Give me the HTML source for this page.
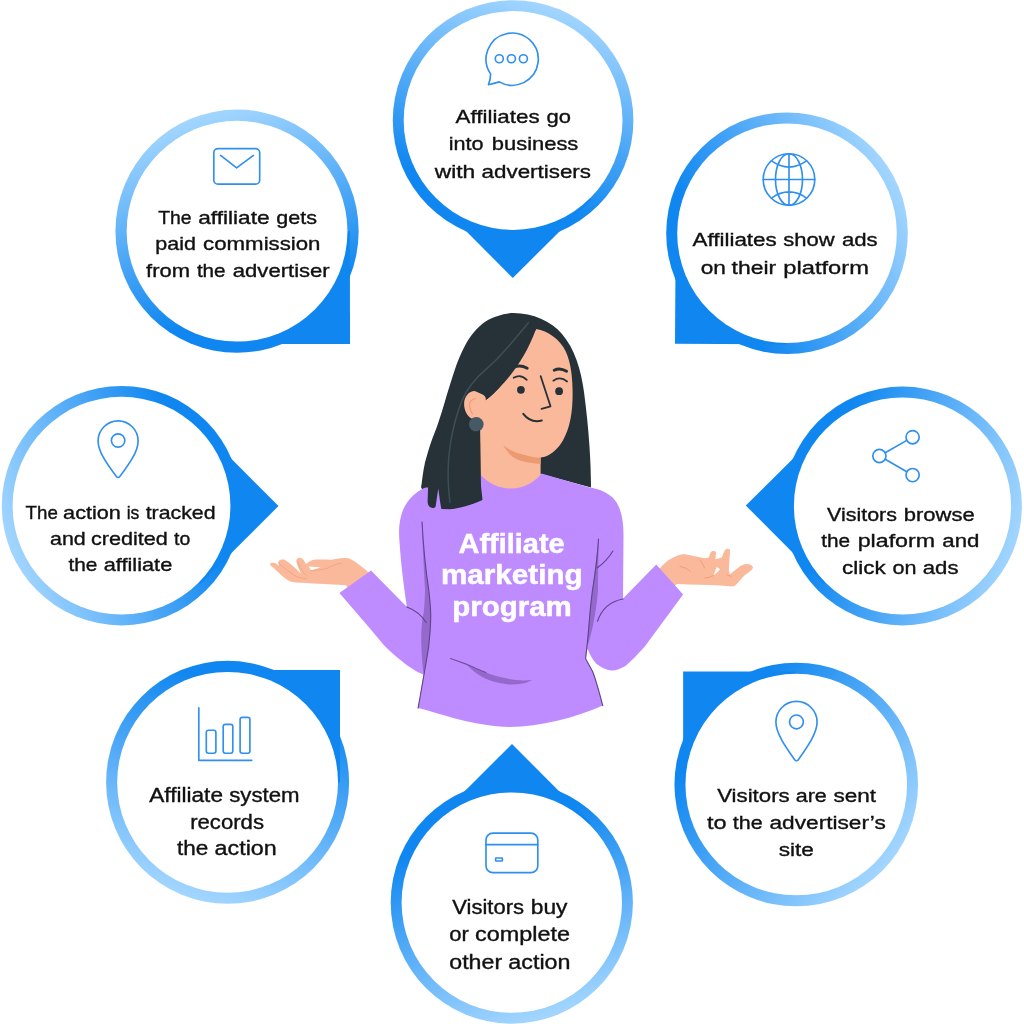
<!DOCTYPE html>
<html lang="en">
<head>
<meta charset="utf-8">
<title>Affiliate marketing program</title>
<style>
html,body{margin:0;padding:0;background:#fff;}
body{width:1024px;height:1024px;overflow:hidden;}
svg{display:block;will-change:transform;}
text{font-family:"Liberation Sans",sans-serif;}
.t{fill:#111111;stroke:#111111;stroke-width:0.36px;}
.b{font-size:28px;font-weight:bold;fill:#fff;stroke:#fff;stroke-width:0.5px;}
.ic{fill:none;stroke:#2F90EE;stroke-width:1.65;stroke-linecap:round;stroke-linejoin:round;}
</style>
</head>
<body>
<svg width="1024" height="1024" viewBox="0 0 1024 1024">
<rect width="1024" height="1024" fill="#fff"/>
<g id="bubbles">
<linearGradient id="g0" gradientUnits="userSpaceOnUse" x1="201.7" y1="115.5" x2="259.0" y2="302.9"><stop offset="0" stop-color="#A3D6FF"/><stop offset="1" stop-color="#1087F0"/></linearGradient><circle cx="237.05" cy="231.2" r="121.6" fill="url(#g0)"/><path d="M237.1 231.2L237.1 344.1L350.0 344.0L349.9 231.1Z" fill="#1087F0"/><circle cx="237.05" cy="231.2" r="110.4" fill="#fff"/>
<linearGradient id="g1" gradientUnits="userSpaceOnUse" x1="548.5" y1="4.8" x2="491.2" y2="192.2"><stop offset="0" stop-color="#A3D6FF"/><stop offset="1" stop-color="#1087F0"/></linearGradient><circle cx="513.1" cy="120.5" r="120.3" fill="url(#g1)"/><path d="M513.1 120.5L434.2 199.1L512.8 278.0L591.7 199.4Z" fill="#1087F0"/><circle cx="513.1" cy="120.5" r="109.4" fill="#fff"/>
<linearGradient id="g2" gradientUnits="userSpaceOnUse" x1="893.8" y1="176.4" x2="720.8" y2="268.4"><stop offset="0" stop-color="#A3D6FF"/><stop offset="1" stop-color="#1087F0"/></linearGradient><circle cx="787.0" cy="233.2" r="120.8" fill="url(#g2)"/><path d="M787.0 233.2L675.7 232.5L675.0 343.8L786.3 344.5Z" fill="#1087F0"/><circle cx="787.0" cy="233.2" r="109.8" fill="#fff"/>
<linearGradient id="g3" gradientUnits="userSpaceOnUse" x1="1019.4" y1="537.3" x2="830.1" y2="486.6"><stop offset="0" stop-color="#A3D6FF"/><stop offset="1" stop-color="#1087F0"/></linearGradient><circle cx="902.5" cy="506.0" r="119.4" fill="url(#g3)"/><path d="M902.5 506.0L824.4 427.4L745.8 505.5L823.9 584.1Z" fill="#1087F0"/><circle cx="902.5" cy="506.0" r="108.6" fill="#fff"/>
<linearGradient id="g4" gradientUnits="userSpaceOnUse" x1="888.9" y1="862.3" x2="723.5" y2="723.5"><stop offset="0" stop-color="#A3D6FF"/><stop offset="1" stop-color="#1087F0"/></linearGradient><circle cx="796.25" cy="784.55" r="121.8" fill="url(#g4)"/><path d="M796.2 784.5L796.2 671.5L683.1 671.5L683.2 784.6Z" fill="#1087F0"/><circle cx="796.25" cy="784.55" r="110.8" fill="#fff"/>
<linearGradient id="g5" gradientUnits="userSpaceOnUse" x1="547.2" y1="1018.3" x2="489.9" y2="830.9"><stop offset="0" stop-color="#A3D6FF"/><stop offset="1" stop-color="#1087F0"/></linearGradient><circle cx="511.8" cy="902.6" r="121.1" fill="url(#g5)"/><path d="M511.8 902.6L591.2 823.4L512.0 744.0L432.6 823.2Z" fill="#1087F0"/><circle cx="511.8" cy="902.6" r="110.2" fill="#fff"/>
<linearGradient id="g6" gradientUnits="userSpaceOnUse" x1="190.2" y1="897.4" x2="256.0" y2="694.9"><stop offset="0" stop-color="#A3D6FF"/><stop offset="1" stop-color="#1087F0"/></linearGradient><circle cx="227.6" cy="782.35" r="121.5" fill="url(#g6)"/><path d="M227.6 782.4L340.0 782.4L340.0 670.0L227.6 670.0Z" fill="#1087F0"/><circle cx="227.6" cy="782.35" r="110.4" fill="#fff"/>
<linearGradient id="g7" gradientUnits="userSpaceOnUse" x1="7.8" y1="547.1" x2="192.0" y2="480.0"><stop offset="0" stop-color="#A3D6FF"/><stop offset="1" stop-color="#1087F0"/></linearGradient><circle cx="121.5" cy="505.7" r="119.7" fill="url(#g7)"/><path d="M121.5 505.7L199.8 584.4L278.5 506.0L200.2 427.4Z" fill="#1087F0"/><circle cx="121.5" cy="505.7" r="108.9" fill="#fff"/>
</g>
<g id="icons" class="ic">
<!-- chat bubble -->
<path d="M490.6 73.9 A26.1 26.1 0 1 1 499.3 81.9 Q494 83.6 488.4 84.7 Q490.6 79.5 490.6 73.9 Z"/>
<circle cx="499.3" cy="58.75" r="4"/><circle cx="511.4" cy="58.75" r="4"/><circle cx="523.4" cy="58.75" r="4"/>
<!-- envelope -->
<rect x="213.8" y="148.6" width="45.9" height="35.5" rx="4.2"/>
<path d="M220.6 155.4 L236.6 167.8 L253.4 155.4"/>
<!-- globe -->
<circle cx="789" cy="179.5" r="25.8"/>
<ellipse cx="789" cy="179.5" rx="13.5" ry="25.8"/>
<path d="M789 153.7V205.3M763.2 179.5H814.8M771.5 160.9Q789 173.2 806.5 160.9M771.5 198.1Q789 185.8 806.5 198.1"/>
<!-- share -->
<circle cx="912.6" cy="437.2" r="6.6"/><circle cx="879.4" cy="456" r="6.6"/><circle cx="912.6" cy="475.1" r="6.6"/>
<path d="M885.2 452.8L906.8 440.4M885.2 459.3L906.8 471.8"/>
<!-- pin right-bottom -->
<path d="M775.9 722 A20.6 20.6 0 0 1 817.1 722 C817.1 733 808 746 798.5 759.5 Q796.5 762 794.5 759.5 C785 746 775.9 733 775.9 722Z"/>
<circle cx="796.45" cy="721.9" r="6.9"/>
<!-- card -->
<rect x="486" y="833.1" width="51.8" height="39.6" rx="6.8"/>
<path d="M486 844.6H537.8"/>
<rect x="495.6" y="858" width="6.8" height="3" rx="0.6"/>
<!-- chart -->
<path d="M198.8 707.8V760.3H251.8"/>
<rect x="206.3" y="730.2" width="9.6" height="23" rx="2.2"/>
<rect x="223.2" y="724.3" width="9.6" height="28.9" rx="2.2"/>
<rect x="240.1" y="717.3" width="9.8" height="35.9" rx="2.2"/>
<!-- pin left -->
<path d="M98.1 440.9 A20 20 0 0 1 138.1 440.9 C138.1 451.5 129.3 464 120 476.3 Q118.1 478.7 116.2 476.3 C106.9 464 98.1 451.5 98.1 440.9Z"/>
<circle cx="118.1" cy="440.5" r="6.7"/>

</g>
<g id="figure">
<!-- hair back -->
<path fill="#263238" d="M513.5 313.1 C504 313.2 493 317 486 321.25 C477 327 470 336.5 466 343.75 C461.5 352 457 363 454.75 370 C450 384 446 398 443.5 406.25 C440 418 436 430 432.75 437.5 C429.5 446 427 455 425 462.5 C423.3 470 422 480 421.25 487.5 L430 506 L438 508 L450 509.5 L482 500 L541 474 L591 487.5 C591 462 589 430 584 392 C581 370 575 349 562 334 C551 321 533 313.5 513.5 313.1Z"/>
<!-- left hand -->
<path fill="#FBB99B" d="M367.3 571.3 L374 580 L352 595 L346 585.3 C337 584.8 327 584.2 318.5 583.8 C311 583.3 303 582.9 296 582.5 C293.5 582.3 291.5 581.9 289.8 581.2 C285.5 579 282 575.8 278.5 572.5 C275.8 570 273 567.3 270.6 565.4 C269.7 564.3 270 563.2 271.3 562.9 C272.6 562.6 274 562.6 275.3 563.2 C276.6 564 278 564.9 279.3 565.8 C278.5 564.4 278 562.6 278.6 561.3 C279.6 559.6 282.5 559.2 284.8 559.8 C288 561.8 290.8 564.2 293.5 566.6 C296 568.8 298.5 571.3 301 573.7 C299.2 569.8 297.3 565.5 296.3 561.6 C296 559.3 297.6 557.8 299.8 557.8 C301.6 557.9 302.9 559 303.8 560.3 L306 564 C308 562.5 311 560.5 313 559.8 C318 559.4 325 559.7 331 559.7 C335.5 559.4 339.5 558.3 343.5 558.1 C346 557.9 348.3 558.1 349.8 558.8 C352.3 559.9 354.3 561.3 356 562.6 C360 565.4 363.8 568.3 367.3 571.3Z"/>
<path fill="#fff" d="M308.6 566.6 L320.6 567.2 C317.5 568.6 314 569.6 311 570.2 Z"/>
<path fill="none" stroke="#F0A183" stroke-width="0.9" stroke-linecap="round" d="M311 570.5 C318 570.3 324 569.5 328 568 C332 565.5 336 564 341 563.5 M278.5 563 C283 567 288.5 571.5 293.5 575 C297.5 577.3 302 578.5 306.5 578.8 M298 562 C299 565 300.5 568.5 302.5 571.5 C303.5 573 305 574.5 306.5 575.5"/>
<!-- right hand -->
<path fill="#FBB99B" d="M676.9 584 L668 592 L652 574 L660.6 567.5 C663 564.5 666 562 668.8 560 C672.5 557.4 677 555.2 681.3 554.4 C684.5 554 688 554.9 691.3 555.6 C695.5 556.5 700 557.5 703.8 558.1 C705.5 558.3 707.3 558 708.8 557.5 C709.3 555.8 709.8 554 710.6 552.5 C711.3 551.3 712.5 550.8 713.8 551 C715.2 551.2 716 551.9 716 552.8 C716 555 715.6 557.3 715.3 559.3 C717.5 558.8 720 558.3 722 557.6 C722.6 555 723.8 552 725 550 C725.8 549 727 548.6 728.1 548.8 C729.4 549 730 549.7 730 550.6 C730 554 729.6 558 729.4 561.3 C729.2 564.3 728.8 567.3 728.8 570 C729 571.5 729.5 573 730 574.4 C733 571.8 736.8 568.8 740 566.3 C742 565 744.3 564.2 746.3 564 C749 563.8 752 564.8 752.8 567 C753 568 752.7 568.6 752 569.4 C750 571.5 747.5 573.3 745 575 C742 578 739 581.5 736.3 584.4 C735 585.5 733.8 586.3 732.5 586.5 C728.5 586.3 724.3 585.9 720 585.6 C713.5 585.2 706.5 584.9 700 584.8 C692.3 584.6 684.5 584.3 676.9 584 Z"/>
<path fill="#fff" d="M716.8 566.9 L720.1 569.3 C718.2 571.5 716 573.6 713.5 575.3 C714.4 572.3 715.6 569.4 716.8 566.9Z"/>
<path fill="none" stroke="#EC9A72" stroke-width="0.9" stroke-linecap="round" d="M680 566.5 C684 567 688 569 690.5 571.5 M700 560 C702.5 563 704 566 704.5 568 M705 578 C708 577.6 711 576.8 713.3 575.6 M727 574.5 C728.5 575.8 730 576.3 731.5 576"/>
<!-- neck -->
<path fill="#FBB99B" d="M480 405 L480.3 476 C489 487 500 492 511 492 C523 492 534 485 540.6 476 L540.6 445 Z"/>
<!-- neck shadow -->
<path fill="#EC9A72" d="M503 445 C506 447.3 509.5 449.5 513 451.25 C517 453 521 454.3 525.5 455 C530.5 456 535.5 456.7 540.6 456.9 L540.6 464 C537.5 463.9 534.5 463.6 531.75 463.1 C528.5 462.6 525.3 462 522.4 461.25 C519 460.2 515.8 458.7 513 456.9 C510.6 455.2 508.5 453 506.75 450.6 C505.3 448.8 504 446.9 503 445Z"/>
<!-- ear -->
<path fill="#FBB99B" d="M474.75 391 C469 391 464.2 396.5 464.1 403.75 C464 410 467 416 471.5 418.5 L484 420 L486 396 Z"/>
<path fill="none" stroke="#EC9A72" stroke-width="1.1" stroke-linecap="round" d="M475.5 398.5 C471.5 399.5 469.2 402.5 469.6 406.3 C469.9 409.3 471 411.8 472.4 413.8"/>
<!-- face -->
<path fill="#FBB99B" d="M536 329 C548 331 560 339 566 352 C572 365 573 385 572.5 400 C572 418 568 434 560 445 C554 453 546 457.5 540 457.5 C528 457.5 512 451 502 442 C494 435 486 430 480 424 L480 404 L486.6 399.4 C505 385 525 360 536 329Z"/>
<!-- hair front sweep -->
<path fill="#263238" d="M536.5 328.8 C534 333 531 337 528.5 341.25 C525.5 346.5 522.5 351.5 519.75 356.25 C517 361 514 365.5 511 370 C508 374.8 505.2 379.5 502.25 383.75 C499.5 387.5 496.5 390.8 493.5 393.75 C491.3 395.8 489 397.8 486.6 399.4 C486 398.2 485.4 397.2 484.75 396.25 C483.6 394.8 482.3 393.5 481 392.5 C479 391.4 477 391 474.75 391 C480 370 490 345 505 330 C515 322 528 322 536.5 328.8Z"/>
<!-- earring -->
<circle cx="476.3" cy="424.3" r="7.3" fill="#455A64"/>
<!-- eyes etc -->
<g fill="none" stroke="#263238" stroke-linecap="round">
<path d="M513.6 367.4 Q520 364.2 527.2 368.2" stroke-width="2.9"/>
<path d="M554.2 370.2 Q560 367.2 566.6 371.3" stroke-width="2.9"/>
<path d="M513.6 377.8 Q520.5 373.4 526.8 379.8" stroke-width="1.7"/>
<path d="M553.3 380.7 Q560.3 375.9 567.1 381.5" stroke-width="1.7"/>
<path d="M540.7 376.2 L550.5 406.3 L541.5 408.8" stroke-width="1.8" stroke-linejoin="round"/>
</g>
<path fill="#EC9A72" d="M526 417 Q533 421.5 541 420.6 Q533 424.2 526 417Z"/>
<path fill="none" stroke="#263238" stroke-linecap="round" stroke-width="2" d="M523.3 413.9 Q530.5 423.3 541.8 420.5"/>
<circle cx="520.9" cy="389.8" r="3.9" fill="#263238"/>
<circle cx="559.1" cy="391.2" r="3.9" fill="#263238"/>
<!-- sweater torso -->
<path fill="#BF8CFF" d="M428.5 486 C418 490 408 498 403 510 C399 520 398.5 530 399.5 542 C401 565 404 588 406.9 606.9 L371 570.6 L339.4 593.1 L371.25 630 L383.75 645 C395 656.3 407.5 666.3 417.5 671.9 L423.5 674.5 L418.1 708.1 C440 713.5 475 726.9 510 726.9 C540 726.9 575 718 602.75 705.6 C600 695 596 680 592.5 671.25 L585.6 658.75 L587.5 648.75 C590 655 593 660 596.25 663.75 C601 667.5 606 670 611.25 670.6 C616 670.8 621 668.5 625 666.25 C630 662.5 637 655 645 646.25 L683.1 594.4 L656.25 564.4 L623 598.5 L623.5 535 C623.5 520 621 505 612 497 C605 491 598 489 589.5 487.5 L541.5 473.5 C534 483 523 488.6 511 488.6 C500 488.6 489 484 480.3 474.5 Z"/>
<!-- hair over shoulder -->
<path fill="#263238" d="M421.25 487.5 C423 478 426 466 430 455 L480 430 L481 486 L482.5 500 C470 505.5 458 508.5 450 509.3 L441.3 509 L439.8 500 L438.3 488.5 L435.6 506.5 C434.5 508.3 432.5 508.3 430.8 507.5 C428.5 506.3 427.5 504 427.6 501 L428.1 487.5 Z"/>
<!-- hair highlight -->
<path fill="none" stroke="#3D4E56" stroke-width="1.5" stroke-linecap="round" d="M528.5 322.5 C524.5 327.5 520.5 332.5 516 337.5 C510 345 503.5 352 497.25 358.75 C491 365 484.5 370.5 478.5 376.25 C474 381 469.5 386.5 466 392.5 C462.8 398 460.3 404 458.5 410 C456.5 416 454.8 422 453.5 428 C451.5 436 449.8 445 449 455 C448 465 448 478 448.5 487 C448.8 492 449.3 497 450 502.5"/>
<!-- sweater shadows -->
<path fill="#9469CB" d="M422 522 C423.5 550 426 572 428.75 590 C430.5 605 431 615 430.6 621.25 C430.3 632 429.3 640 428.75 646.25 C427.3 656 425.5 665 423.75 673.75 C422.5 668 421.6 655 421.25 640 C421.2 628 422.3 618 423.75 612.5 C424.6 604 424.8 597 425 590 C424 570 422.5 545 422 522Z"/>
<path fill="#9469CB" d="M598.5 539 C598.5 560 598 577 598 590 C596 615 592 632 587.5 646.5 C587.8 630 590 610 592.5 590 C594.5 573 596.5 556 598.5 539Z"/>
<path fill="#9469CB" d="M450.4 658.5 C456 660.5 461.5 662.3 467.3 664.4 C473.5 667.3 479.5 670 486 672.5 C492 674.8 498.5 676.8 504.8 678.1 C511 679.5 517.5 680.4 523.5 680.6 L532.3 680 C528.5 682 525 683.2 521 683.8 C517 684.6 512.5 684.8 508.5 684.4 C503 683.8 497.5 682.8 492.3 681.3 C487.8 679.9 483.5 677.9 479.8 675.6 C475 672.6 471 669 467.3 665.6 C461.5 663.2 456 660.8 450.4 658.5Z"/>
<g fill="none" stroke="#5E4387" stroke-width="1.1" stroke-linecap="round">
<path d="M422 522 C423.5 550 426 572 428.75 590 C430.5 605 431 615 430.6 621.25 C430.3 632 429.3 640 428.75 646.25 C427 658 424 675 418.1 708.1"/>
<path d="M598.5 539 C597.5 560 595 575 592.5 590 C590.5 605 589.5 617 588.75 627.5 C587.8 640 586.5 650 585.6 658.75 L592.5 671.25 C596 680 600 695 602.75 705.6"/>
<path d="M406.9 606.9 C414 609.5 421 614.5 426.25 622.5"/>
<path d="M450.4 658.5 C456 660.5 461.5 662.3 467.3 664.4 C473.5 667.3 479.5 670 486 672.5" stroke-width="0.9"/>
<path d="M597 568 Q606 562 613 551"/>
<path d="M597.5 621.25 C602 608 612 601 623 599"/>
</g>

</g>
<g id="labels">
<text class="t" font-size="18.5" y="122.8"><tspan x="455.6" textLength="84.0" lengthAdjust="spacingAndGlyphs">Affiliates</tspan> <tspan x="546.5" textLength="24.4" lengthAdjust="spacingAndGlyphs">go</tspan></text>
<text class="t" font-size="18.5" y="150.1"><tspan x="448.8" textLength="34.8" lengthAdjust="spacingAndGlyphs">into</tspan> <tspan x="491.8" textLength="86.5" lengthAdjust="spacingAndGlyphs">business</tspan></text>
<text class="t" font-size="18.5" y="177.5"><tspan x="434.7" textLength="40.5" lengthAdjust="spacingAndGlyphs">with</tspan> <tspan x="481.6" textLength="109.4" lengthAdjust="spacingAndGlyphs">advertisers</tspan></text>
<text class="t" font-size="18.2" y="223.8"><tspan x="158.2" textLength="33.4" lengthAdjust="spacingAndGlyphs">The</tspan> <tspan x="198.2" textLength="71.5" lengthAdjust="spacingAndGlyphs">affiliate</tspan> <tspan x="276.3" textLength="40.7" lengthAdjust="spacingAndGlyphs">gets</tspan></text>
<text class="t" font-size="18.2" y="250.3"><tspan x="155.3" textLength="40.6" lengthAdjust="spacingAndGlyphs">paid</tspan> <tspan x="203.1" textLength="117.4" lengthAdjust="spacingAndGlyphs">commission</tspan></text>
<text class="t" font-size="18.2" y="277.0"><tspan x="146.1" textLength="43.9" lengthAdjust="spacingAndGlyphs">from</tspan> <tspan x="196.9" textLength="28.7" lengthAdjust="spacingAndGlyphs">the</tspan> <tspan x="232.8" textLength="96.9" lengthAdjust="spacingAndGlyphs">advertiser</tspan></text>
<text class="t" font-size="18.7" y="246.3"><tspan x="692.5" textLength="84.2" lengthAdjust="spacingAndGlyphs">Affiliates</tspan> <tspan x="783.3" textLength="51.4" lengthAdjust="spacingAndGlyphs">show</tspan> <tspan x="841.9" textLength="35.8" lengthAdjust="spacingAndGlyphs">ads</tspan></text>
<text class="t" font-size="18.7" y="274.0"><tspan x="700.7" textLength="25.2" lengthAdjust="spacingAndGlyphs">on</tspan> <tspan x="731.6" textLength="44.5" lengthAdjust="spacingAndGlyphs">their</tspan> <tspan x="783.3" textLength="85.6" lengthAdjust="spacingAndGlyphs">platform</tspan></text>
<text class="t" font-size="18.2" y="519.3"><tspan x="25.6" textLength="32.2" lengthAdjust="spacingAndGlyphs">The</tspan> <tspan x="63.1" textLength="57.8" lengthAdjust="spacingAndGlyphs">action</tspan> <tspan x="126.7" textLength="12.7" lengthAdjust="spacingAndGlyphs">is</tspan> <tspan x="145.7" textLength="69.9" lengthAdjust="spacingAndGlyphs">tracked</tspan></text>
<text class="t" font-size="18.2" y="544.8"><tspan x="50.0" textLength="35.7" lengthAdjust="spacingAndGlyphs">and</tspan> <tspan x="91.0" textLength="76.8" lengthAdjust="spacingAndGlyphs">credited</tspan> <tspan x="174.0" textLength="16.2" lengthAdjust="spacingAndGlyphs">to</tspan></text>
<text class="t" font-size="18.2" y="571.1"><tspan x="68.5" textLength="28.9" lengthAdjust="spacingAndGlyphs">the</tspan> <tspan x="103.7" textLength="68.6" lengthAdjust="spacingAndGlyphs">affiliate</tspan></text>
<text class="t" font-size="18.7" y="520.9"><tspan x="827.1" textLength="69.9" lengthAdjust="spacingAndGlyphs">Visitors</tspan> <tspan x="903.8" textLength="70.9" lengthAdjust="spacingAndGlyphs">browse</tspan></text>
<text class="t" font-size="18.7" y="547.1"><tspan x="821.2" textLength="28.9" lengthAdjust="spacingAndGlyphs">the</tspan> <tspan x="857.7" textLength="77.4" lengthAdjust="spacingAndGlyphs">plaform</tspan> <tspan x="942.3" textLength="37.1" lengthAdjust="spacingAndGlyphs">and</tspan></text>
<text class="t" font-size="18.7" y="574.3"><tspan x="842.1" textLength="43.6" lengthAdjust="spacingAndGlyphs">click</tspan> <tspan x="892.5" textLength="24.0" lengthAdjust="spacingAndGlyphs">on</tspan> <tspan x="922.8" textLength="35.7" lengthAdjust="spacingAndGlyphs">ads</tspan></text>
<text class="t" font-size="19.5" y="801.8"><tspan x="149.2" textLength="73.8" lengthAdjust="spacingAndGlyphs">Affiliate</tspan> <tspan x="229.2" textLength="70.4" lengthAdjust="spacingAndGlyphs">system</tspan></text>
<text class="t" font-size="19.5" y="828.7"><tspan x="190.2" textLength="73.8" lengthAdjust="spacingAndGlyphs">records</tspan></text>
<text class="t" font-size="19.5" y="855.4"><tspan x="177.1" textLength="31.3" lengthAdjust="spacingAndGlyphs">the</tspan> <tspan x="214.6" textLength="62.1" lengthAdjust="spacingAndGlyphs">action</tspan></text>
<text class="t" font-size="19.2" y="801.8"><tspan x="717.2" textLength="72.5" lengthAdjust="spacingAndGlyphs">Visitors</tspan> <tspan x="795.7" textLength="31.1" lengthAdjust="spacingAndGlyphs">are</tspan> <tspan x="833.4" textLength="42.6" lengthAdjust="spacingAndGlyphs">sent</tspan></text>
<text class="t" font-size="19.2" y="828.7"><tspan x="707.0" textLength="19.6" lengthAdjust="spacingAndGlyphs">to</tspan> <tspan x="732.8" textLength="29.9" lengthAdjust="spacingAndGlyphs">the</tspan> <tspan x="769.5" textLength="116.3" lengthAdjust="spacingAndGlyphs">advertiser’s</tspan></text>
<text class="t" font-size="19.2" y="856.0"><tspan x="778.7" textLength="35.2" lengthAdjust="spacingAndGlyphs">site</tspan></text>
<text class="t" font-size="19.4" y="914.0"><tspan x="452.3" textLength="71.7" lengthAdjust="spacingAndGlyphs">Visitors</tspan> <tspan x="530.8" textLength="36.7" lengthAdjust="spacingAndGlyphs">buy</tspan></text>
<text class="t" font-size="19.4" y="941.4"><tspan x="449.3" textLength="19.6" lengthAdjust="spacingAndGlyphs">or</tspan> <tspan x="475.1" textLength="95.0" lengthAdjust="spacingAndGlyphs">complete</tspan></text>
<text class="t" font-size="19.4" y="969.0"><tspan x="449.3" textLength="52.8" lengthAdjust="spacingAndGlyphs">other</tspan> <tspan x="508.3" textLength="62.2" lengthAdjust="spacingAndGlyphs">action</tspan></text>
</g>
<g id="title">
<text class="b" y="552.6"><tspan x="458.6" textLength="106.1" lengthAdjust="spacingAndGlyphs">Affiliate</tspan></text>
<text class="b" y="584.3"><tspan x="441.0" textLength="141.6" lengthAdjust="spacingAndGlyphs">marketing</tspan></text>
<text class="b" y="616.0"><tspan x="452.2" textLength="119.6" lengthAdjust="spacingAndGlyphs">program</tspan></text>
</g>
</svg>
</body>
</html>
